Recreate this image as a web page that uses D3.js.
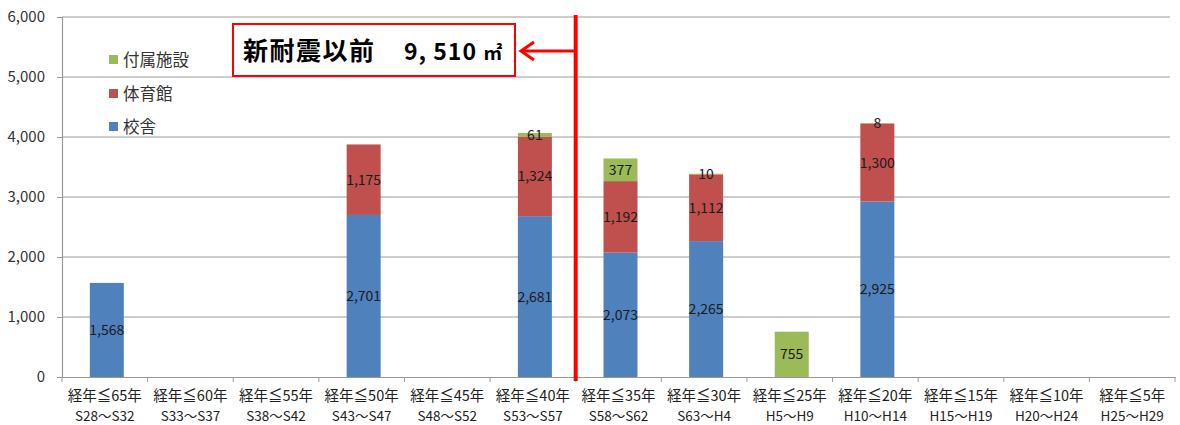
<!DOCTYPE html>
<html><head><meta charset="utf-8">
<script src="https://cdn.jsdelivr.net/npm/d3@7"></script>
<style>body{margin:0;background:#fff;}svg{display:block;}</style>
</head><body>
<svg id="c" width="1180" height="425"></svg>
<script>
const categories = ["経年≦65年","経年≦60年","経年≦55年","経年≦50年","経年≦45年","経年≦40年","経年≦35年","経年≦30年","経年≦25年","経年≦20年","経年≦15年","経年≦10年","経年≦5年"];
const periods = ["S28～S32","S33～S37","S38～S42","S43～S47","S48～S52","S53～S57","S58～S62","S63～H4","H5～H9","H10～H14","H15～H19","H20～H24","H25～H29"];
const school = [1568,0,0,2701,0,2681,2073,2265,0,2925,0,0,0];
const gym = [0,0,0,1175,0,1324,1192,1112,0,1300,0,0,0];
const annex = [0,0,0,0,0,61,377,10,755,8,0,0,0];
const seriesNames = ["校舎","体育館","付属施設"];
const seriesColors = ["#4F81BD","#C0504D","#9BBB59"];
const yTicks = [0,1000,2000,3000,4000,5000,6000];
const annotationLabel = "新耐震以前";
const annotationValue = "9, 510";
const annotationUnit = "㎡";

(function(){
const svg = d3.select("#c");
const font = "'Noto Sans CJK JP','Noto Sans',sans-serif";
const mLeft = 62, mRight = 1175, mTop = 17, mBottom = 377;
const xb = d3.scaleBand().domain(categories).range([mLeft, mRight]);
const y = d3.scaleLinear().domain([0,6000]).range([mBottom, mTop]);

svg.append("g").selectAll("line").data(yTicks.filter(d=>d>0)).join("line")
  .attr("x1", mLeft).attr("x2", 1170).attr("y1", d=>y(d)).attr("y2", d=>y(d))
  .attr("stroke", "#bdbdbd").attr("stroke-width", 1.5);

const ya = svg.append("g").attr("transform", `translate(${mLeft},0)`)
  .call(d3.axisLeft(y).tickValues(yTicks).tickFormat(d3.format(",")).tickSize(5).tickPadding(12));
ya.select(".domain").attr("stroke", "#999").attr("stroke-width", 1.2);
ya.selectAll(".tick line").attr("stroke", "#999");
ya.selectAll("text").attr("font-family", font).attr("font-size", 15).attr("fill", "#333");

const xa = svg.append("g").attr("transform", `translate(0,${mBottom})`)
  .call(d3.axisBottom(xb).tickSize(0).tickFormat(""));
xa.select(".domain").attr("stroke", "#999").attr("stroke-width", 1.2);
svg.append("g").selectAll("line").data(d3.range(categories.length + 1)).join("line")
  .attr("x1", i => mLeft + i * xb.step()).attr("x2", i => mLeft + i * xb.step())
  .attr("y1", mBottom).attr("y2", mBottom + 5).attr("stroke", "#999");
const xl = svg.append("g");
categories.forEach((c, i) => {
  const cx = xb(c) + xb.bandwidth() / 2;
  xl.append("text").attr("x", cx).attr("y", 401).attr("text-anchor", "middle")
    .attr("font-family", font).attr("font-size", 14.5).attr("fill", "#222").text(c);
  xl.append("text").attr("x", cx).attr("y", 421).attr("text-anchor", "middle")
    .attr("font-family", font).attr("font-size", 13.5).attr("fill", "#222").text(periods[i]);
});

const rows = categories.map((c, i) => ({cat: c, s0: school[i], s1: gym[i], s2: annex[i]}));
const stack = d3.stack().keys(["s0","s1","s2"])(rows);
const bw = 34;
stack.forEach((layer, k) => {
  const g = svg.append("g");
  layer.forEach(d => {
    const v = d[1] - d[0];
    if (v <= 0) return;
    const cx = xb(d.data.cat) + xb.bandwidth() / 2 + 2;
    g.append("rect").attr("x", cx - bw/2).attr("width", bw)
      .attr("y", y(d[1])).attr("height", y(d[0]) - y(d[1])).attr("fill", seriesColors[k]);
    const ty = (y(d[0]) + y(d[1])) / 2 + 5;
    g.append("text").attr("x", cx).attr("y", ty).attr("text-anchor", "middle")
      .attr("font-family", font).attr("font-size", 14).attr("fill", "#1a1a1a")
      .text(d3.format(",")(v));
  });
});

const legY = [60, 94, 127];
[2,1,0].forEach((k, j) => {
  svg.append("rect").attr("x", 109).attr("y", legY[j] - 5).attr("width", 9).attr("height", 9).attr("fill", seriesColors[k]);
  svg.append("text").attr("x", 123).attr("y", legY[j] + 6).attr("font-family", font)
    .attr("font-size", 16.5).attr("fill", "#333").text(seriesNames[k]);
});

const divX = mLeft + 6 * xb.step();
svg.append("line").attr("x1", divX).attr("x2", divX).attr("y1", 15).attr("y2", 381)
  .attr("stroke", "#ff0000").attr("stroke-width", 4);

svg.append("rect").attr("x", 233).attr("y", 24).attr("width", 282).attr("height", 52)
  .attr("fill", "#fff").attr("stroke", "#ff0000").attr("stroke-width", 2);
const at = svg.append("text").attr("y", 60).attr("font-weight", "bold").attr("fill", "#000").attr("font-family", font);
at.append("tspan").attr("x", 243).attr("font-size", 25).attr("letter-spacing", 1.5).text(annotationLabel);
at.append("tspan").attr("x", 404).attr("font-size", 23).attr("letter-spacing", 1).text(annotationValue + " ");
at.append("tspan").attr("font-size", 19).text(annotationUnit);
svg.append("line").attr("x1", divX).attr("x2", 523).attr("y1", 51).attr("y2", 51)
  .attr("stroke", "#ff0000").attr("stroke-width", 3);
svg.append("path").attr("d", `M534,42 L521,51 L534,60`).attr("fill", "none")
  .attr("stroke", "#ff0000").attr("stroke-width", 3);
})();
</script>
</body></html>
